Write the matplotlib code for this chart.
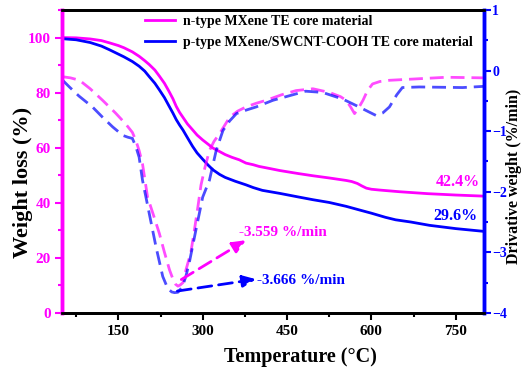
import numpy as np
import matplotlib.pyplot as plt
from matplotlib.ticker import MultipleLocator

plt.rcParams['font.family'] = ['Liberation Serif', 'DejaVu Serif']
plt.rcParams['font.weight'] = 'bold'

# TGA curves (weight %, left axis)
t_n = [50, 75, 100, 120, 134, 150, 160, 175, 187, 197, 205, 215, 223, 232, 240, 247, 253, 259, 265,
       273, 282, 290, 300, 310, 318, 330, 340, 352, 365, 377, 390, 400, 420, 437, 455, 470, 496,
       525, 555, 565, 575, 583, 591, 600, 615, 650, 700, 750, 800]
w_n = [100, 99.9, 99.5, 98.9, 98.1, 97.1, 96.3, 94.8, 93.2, 91.6, 90.2, 88.2, 86, 83.4, 80.5, 77.8,
       75, 72.8, 71, 68.6, 66.5, 64.6, 62.8, 61.2, 59.9, 58.6, 57.5, 56.5, 55.6, 54.4, 53.8, 53.2,
       52.4, 51.7, 51.1, 50.6, 49.8, 49, 48.1, 47.7, 47.0, 46.1, 45.3, 44.9, 44.6, 44.0, 43.3, 42.8,
       42.4]

t_p = [50, 75, 100, 120, 134, 150, 160, 175, 187, 197, 205, 215, 223, 232, 240, 247, 253, 259, 265,
       273, 282, 290, 300, 310, 318, 330, 340, 358, 377, 390, 406, 437, 470, 496, 525, 555, 580,
       600, 625, 643, 670, 703, 750, 800]
w_p = [99.6, 99.2, 98.2, 96.9, 95.6, 94.0, 93.0, 91.3, 89.6, 87.8, 85.8, 83.4, 81, 78.2, 75.2,
       72.6, 70.2, 68.2, 66.4, 63.6, 60.5, 58.1, 55.8, 53.6, 52, 50.3, 49.2, 47.8, 46.5, 45.5,
       44.5, 43.4, 42.1, 41.1, 40.1, 38.7, 37.3, 36.2, 34.7, 33.8, 33.0, 31.8, 30.6, 29.6]

# DTG curves (%/min, right axis)
dt_n = [50, 65, 81, 100, 122, 145, 163, 175, 181, 187, 193, 202, 213, 223, 232, 241, 247, 252, 256,
        260, 265, 270, 279, 285, 291, 297, 304, 312, 320, 330, 348, 362, 377, 395, 413, 440, 466,
        496, 525, 545, 555, 563, 570, 577, 585, 593, 602, 615, 632, 673, 733, 800]
dd_n = [-0.1, -0.12, -0.16, -0.3, -0.49, -0.7, -0.88, -1.02, -1.15, -1.32, -1.54, -2.09, -2.4,
        -2.69, -3.0, -3.29, -3.44, -3.53, -3.559, -3.54, -3.5, -3.3, -3.0, -2.65, -2.28, -1.89,
        -1.6, -1.32, -1.17, -1.04, -0.77, -0.67, -0.6, -0.54, -0.49, -0.4, -0.33, -0.3, -0.36,
        -0.43, -0.49, -0.6, -0.71, -0.62, -0.49, -0.33, -0.22, -0.18, -0.16, -0.14, -0.11, -0.12]

dt_p = [50, 63, 80, 104, 122, 140, 158, 167, 175, 181, 187, 193, 205, 217, 229, 238, 245, 250,
        256, 264, 270, 276, 288, 300, 312, 324, 336, 348, 360, 378, 395, 425, 460, 483, 513, 549,
        578, 595, 608, 620, 632, 645, 655, 685, 762, 800]
dd_p = [-0.15, -0.27, -0.42, -0.6, -0.77, -0.93, -1.07, -1.1, -1.12, -1.25, -1.43, -1.81, -2.36,
        -2.91, -3.4, -3.6, -3.655, -3.666, -3.66, -3.57, -3.4, -3.18, -2.63, -2.09, -1.81, -1.32,
        -0.99, -0.83, -0.71, -0.65, -0.6, -0.49, -0.4, -0.34, -0.36, -0.47, -0.6, -0.68, -0.74,
        -0.7, -0.6, -0.4, -0.28, -0.27, -0.28, -0.26]

mag = '#FF00FF'
blu = '#0000FF'
dash = (0, (5, 2.5))

fig = plt.figure(figsize=(5.26, 3.72), dpi=100)
ax = fig.add_axes([0.118, 0.159, 0.802, 0.814])
ax2 = ax.twinx()

ax.plot(t_n, w_n, color=mag, lw=2, label='n-type MXene TE core material')
ax.plot(t_p, w_p, color=blu, lw=2, label='p-type MXene/SWCNT-COOH TE core material')

ax2.plot(dt_n, dd_n, color=mag, lw=2, alpha=0.7, ls=dash)
ax2.plot(dt_p, dd_p, color=blu, lw=2, alpha=0.7, ls=dash)

ax.set_xlim(50, 800)
ax.set_ylim(0, 110)
ax2.set_ylim(-4, 1)

ax.xaxis.set_major_locator(MultipleLocator(150))
ax.xaxis.set_minor_locator(MultipleLocator(75))
ax.yaxis.set_major_locator(MultipleLocator(20))
ax.yaxis.set_minor_locator(MultipleLocator(10))
ax2.yaxis.set_major_locator(MultipleLocator(1))
ax2.yaxis.set_minor_locator(MultipleLocator(0.5))

for a in (ax, ax2):
    a.spines['top'].set_linewidth(2)
    a.spines['bottom'].set_linewidth(2)
    a.spines['left'].set_color(mag)
    a.spines['left'].set_linewidth(2.5)
    a.spines['right'].set_color(blu)
    a.spines['right'].set_linewidth(2.5)

ax.tick_params(axis='x', which='major', width=1.5, length=5, labelsize=11, pad=4)
ax.tick_params(axis='x', which='minor', width=1.5, length=3)
ax.tick_params(axis='y', which='both', colors=mag, width=1.5, labelsize=11, pad=3)
ax.tick_params(axis='y', which='major', length=5)
ax.tick_params(axis='y', which='minor', length=3)
ax2.tick_params(axis='y', which='both', colors=blu, width=1.5, labelsize=10, pad=1)
ax2.tick_params(axis='y', which='major', length=5)
ax2.tick_params(axis='y', which='minor', length=3)

ax.set_xlabel('Temperature (°C)', fontsize=14.5, fontweight='bold')
ax.xaxis.set_label_coords(0.566, -0.112)
ax.set_ylabel('Weight loss (%)', fontsize=16, fontweight='bold')
ax.yaxis.set_label_coords(-0.069, 0.43)
ax2.set_ylabel('Drivative weight (%/min)', fontsize=11.5, fontweight='bold')
ax2.yaxis.set_label_coords(1.052, 0.45)

ax.legend(loc='upper center', bbox_to_anchor=(0.585, 1.025), frameon=False,
          handlelength=2.2, handletextpad=0.6, labelspacing=0.55, prop={'weight': 'bold', 'size': 10})

ax.text(792, 47.6, '42.4%', color=mag, fontsize=11.5, fontweight='bold', ha='right', va='center')
ax.text(788, 35.3, '29.6%', color=blu, fontsize=11.5, fontweight='bold', ha='right', va='center')

ax2.annotate('', xy=(377, -2.8), xytext=(262, -3.45),
             arrowprops=dict(arrowstyle='-|>,head_length=0.8,head_width=0.35', color=mag, lw=2,
                             ls=dash, shrinkA=0, shrinkB=0))
ax2.annotate('', xy=(395, -3.445), xytext=(255, -3.64),
             arrowprops=dict(arrowstyle='-|>,head_length=0.8,head_width=0.35', color=blu, lw=2,
                             ls=dash, shrinkA=0, shrinkB=0))
ax2.text(364, -2.67, '-3.559 %/min', color=mag, fontsize=11, fontweight='bold', va='center')
ax2.text(397, -3.47, '-3.666 %/min', color=blu, fontsize=11, fontweight='bold', va='center')

fig.savefig('out.png', dpi=100)
